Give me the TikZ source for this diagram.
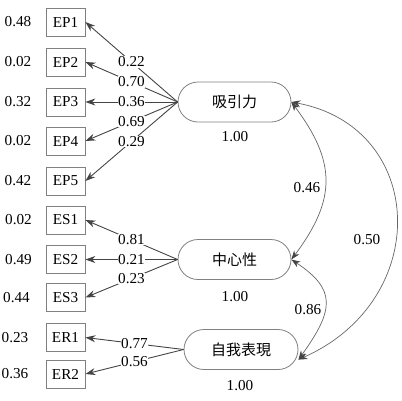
\documentclass[tikz,border=0pt]{standalone}
\usepackage{fontspec}
\setmainfont{Liberation Serif}
\newfontfamily\cjk{Noto Sans CJK TC}
\usetikzlibrary{arrows.meta}
\definecolor{boxgray}{HTML}{808080}
\definecolor{arrowgray}{HTML}{444444}
\definecolor{arcgray}{HTML}{666666}
\begin{document}
\begin{tikzpicture}[x=1pt,y=-1pt,
  every node/.style={font=\fontsize{15.2}{18}\selectfont},
  obsbox/.style={draw=boxgray, line width=0.8pt, minimum width=39pt, minimum height=28pt, inner sep=0pt},
  latent/.style={draw=boxgray, line width=0.8pt, rounded corners=20pt, minimum height=40pt, inner sep=0pt, font=\cjk\fontsize{15}{18}\selectfont},
  val/.style={inner sep=0pt},
  lbl/.style={fill=white, inner sep=0.5pt},
  load/.style={draw=arrowgray, line width=0.9pt, -{Stealth[length=10pt,width=7pt]}},
  cov/.style={draw=arcgray, line width=0.7pt, {Stealth[length=9pt,width=6.5pt,color=arrowgray]}-{Stealth[length=9pt,width=6.5pt,color=arrowgray]}}
]
\useasboundingbox (0,0) rectangle (402,400);

% observed boxes
\node[obsbox] (EP1) at (65.5,22) {EP1};
\node[obsbox] (EP2) at (65.5,62) {EP2};
\node[obsbox] (EP3) at (65.5,102) {EP3};
\node[obsbox] (EP4) at (65.5,141) {EP4};
\node[obsbox] (EP5) at (65.5,181) {EP5};
\node[obsbox] (ES1) at (65.5,220) {ES1};
\node[obsbox] (ES2) at (65.5,259.5) {ES2};
\node[obsbox] (ES3) at (65.5,297.5) {ES3};
\node[obsbox] (ER1) at (65.5,337.5) {ER1};
\node[obsbox] (ER2) at (65.5,374) {ER2};

% error variances
\node[val] (eEP1) at (18,22) {0.48};
\node[val] (eEP2) at (18,62) {0.02};
\node[val] (eEP3) at (18,102) {0.32};
\node[val] (eEP4) at (18,141) {0.02};
\node[val] (eEP5) at (18,181) {0.42};
\node[val] (eES1) at (18.5,220) {0.02};
\node[val] (eES2) at (18.5,259.5) {0.49};
\node[val] (eES3) at (16.5,297.5) {0.44};
\node[val] (eER1) at (15,337.5) {0.23};
\node[val] (eER2) at (15,374) {0.36};

% latent variables
\node[latent, minimum width=113pt] (F1) at (234.5,102) {吸引力};
\node[latent, minimum width=113pt] (F2) at (234.5,259.5) {中心性};
\node[latent, minimum width=114pt] (F3) at (241,349.5) {自我表現};

\node[val] (v1) at (235,137) {1.00};
\node[val] (v2) at (235,297) {1.00};
\node[val] (v3) at (240,386) {1.00};

% loadings
\draw[load] (F1.west) -- node[lbl, pos=0.5] {0.22} (EP1.east);
\draw[load] (F1.west) -- node[lbl, pos=0.5] {0.70} (EP2.east);
\draw[load] (F1.west) -- node[lbl, pos=0.5] {0.36} (EP3.east);
\draw[load] (F1.west) -- node[lbl, pos=0.5] {0.69} (EP4.east);
\draw[load] (F1.west) -- node[lbl, pos=0.5] {0.29} (EP5.east);

\draw[load] (F2.west) -- node[lbl, pos=0.5] {0.81} (ES1.east);
\draw[load] (F2.west) -- node[lbl, pos=0.5] {0.21} (ES2.east);
\draw[load] (F2.west) -- node[lbl, pos=0.5] {0.23} (ES3.east);

\draw[load] (F3.west) -- node[lbl, pos=0.5] {0.77} (ER1.east);
\draw[load] (F3.west) -- node[lbl, pos=0.5] {0.56} (ER2.east);

% covariances
\draw[cov] (F1.east) .. controls +(45,60) and +(45,-60) .. (F2.east);
\draw[cov] (F2.east) .. controls +(45,30) and +(36,-50) .. (F3.-10);
\draw[cov] (F1.east) .. controls +(135,25) and +(135,-60) .. (F3.-10);

\node[val] (c1) at (307,188) {0.46};
\node[val] (c2) at (308,310) {0.86};
\node[val] (c3) at (367,240) {0.50};
\end{tikzpicture}
\end{document}
